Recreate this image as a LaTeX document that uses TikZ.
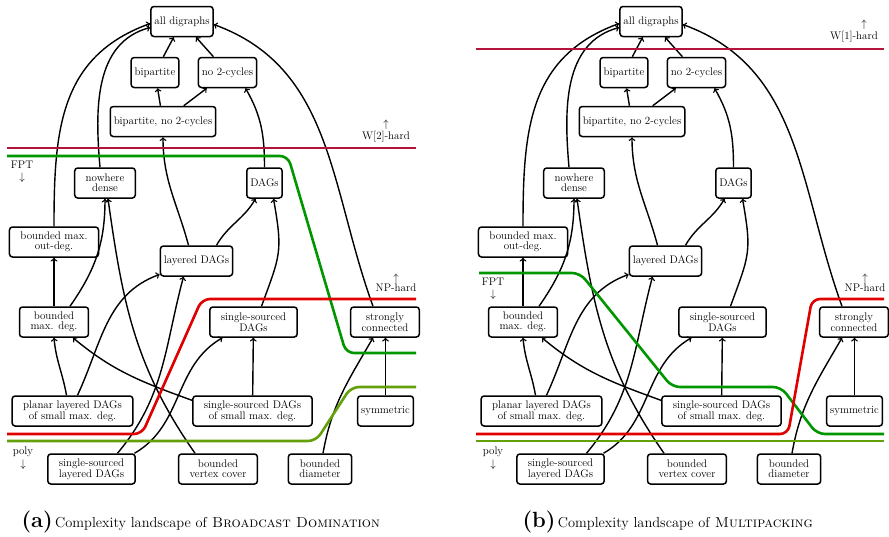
\documentclass[tikz,border=0pt]{standalone}
\usepackage{amsmath,amssymb}
\usepackage{tikz}
\usepackage{xcolor}
\definecolor{whard}{RGB}{180,20,60}
\definecolor{nphard}{RGB}{225,0,0}
\definecolor{fptgreen}{RGB}{0,150,0}
\definecolor{polygreen}{RGB}{100,160,10}

\begin{document}
\begin{tikzpicture}[x=1pt,y=-1pt,
    every node/.style={font=\fontsize{11}{9.8}\selectfont,align=center},
    cls/.style={draw,rounded corners=3pt,line width=1.5pt,minimum height=30pt,inner xsep=3.5pt},
    twoline/.style={cls,inner xsep=11pt},
    edge/.style={->,line width=1.4pt},
    hardline/.style={line width=2.6pt,rounded corners=8pt}]
  \useasboundingbox (0,0) rectangle (889,536);
  \begin{scope}
    \node[cls] (alldi) at (182,21.5) {all digraphs};
    \node[cls] (bip) at (155,72.5) {bipartite};
    \node[cls] (no2) at (227.5,72.5) {no 2-cycles};
    \node[cls] (bipno2) at (163,121.5) {bipartite, no 2-cycles};
    \node[twoline] (nwd) at (105,183) {nowhere\\dense};
    \node[cls] (dags) at (264.5,183) {DAGs};
    \node[twoline] (bmod) at (54,242) {bounded max.\\out-deg.};
    \node[cls] (ldags) at (196.5,261) {layered DAGs};
    \node[twoline] (bmd) at (54,322) {bounded\\max. deg.};
    \node[twoline] (ssdags) at (253.5,322) {single-sourced\\DAGs};
    \node[twoline] (sc) at (385,322) {strongly\\connected};
    \node[twoline] (pldags) at (72.5,411) {planar layered DAGs\\of small max. deg.};
    \node[twoline] (ssdsmd) at (252.5,411) {single-sourced DAGs\\of small max. deg.};
    \node[cls] (sym) at (385.5,411) {symmetric};
    \node[twoline] (ssldags) at (91.5,469) {single-sourced\\layered DAGs};
    \node[twoline] (bvc) at (218,469) {bounded\\vertex cover};
    \node[twoline] (bdiam) at (320,469) {bounded\\diameter};
    \draw[edge] (bip) -- (alldi);
    \draw[edge] (no2) -- (alldi);
    \draw[edge] (bipno2) -- (bip);
    \draw[edge] (bipno2) -- (no2);
    \draw[edge] (dags.north) to[out=90,in=-60] ([xshift=18pt]no2.south);
    \draw[edge] (bmod.north) to[out=90,in=200,looseness=1.1] ([yshift=-2pt]alldi.west);
    \draw[edge] ([xshift=-5pt]nwd.north) to[out=95,in=195] ([yshift=-6pt]alldi.west);
    \draw[edge] ([xshift=-12pt]sc.north) to[out=110,in=-20] ([yshift=-3pt]alldi.east);
    \draw[edge] ([xshift=-8pt]ldags.north) to[out=105,in=-90] (bipno2.south);
    \draw[edge] ([xshift=20pt]ldags.north) to[out=60,in=-120] ([xshift=-9pt]dags.south);
    \draw[edge] ([xshift=8pt]ssdags.north) to[out=70,in=-80,looseness=1.3] ([xshift=9pt]dags.south);
    \draw[edge] (bmd) -- (bmod);
    \draw[edge] ([xshift=16pt]bmd.north) to[out=55,in=-90] (nwd.south);
    \draw[edge] ([xshift=-6pt]pldags.north) to[out=100,in=-85] (bmd.south);
    \draw[edge] ([xshift=5pt]pldags.north) to[out=65,in=200] (ldags.200);
    \draw[edge] ([xshift=-23pt]bvc.north) to[out=125,in=-82] ([xshift=3pt]nwd.south);
    \draw[edge] (ssdsmd.170) to[out=160,in=-40] ([xshift=19pt]bmd.south);
    \draw[edge] (ssdsmd) -- (ssdags);
    \draw[edge] (sym.north) -- (sym.north |- sc.south);
    \draw[edge] ([xshift=3pt]bdiam.north) to[out=80,in=-120] ([xshift=-12pt]sc.south);
    \draw[edge] ([xshift=26pt]ssldags.north) to[out=50,in=-105] ([xshift=-13pt]ldags.south);
    \draw[edge] ([xshift=43pt]ssldags.north) to[out=30,in=210] ([xshift=-31pt]ssdags.south);
    % complexity borders
    \draw[whard,hardline] (7,148) -- (416,148);
    \draw[fptgreen,hardline] (7,156) -- (288,156) -- (346,353) -- (416,353);
    \draw[nphard,hardline] (416,299) -- (202,299) -- (142,434) -- (7,434);
    \draw[polygreen,hardline] (7,441) -- (316,441) -- (351,387) -- (416,387);
    \node (wlbl) at (386,131) {$\uparrow$\\W[2]-hard};
    \node (nplbl) at (396,283) {$\uparrow$\\NP-hard};
    \node (fptlbl) at (22,172) {FPT\\[2pt]$\downarrow$};
    \node (polylbl) at (23,458) {poly\\[2pt]$\downarrow$};
    \node[anchor=base west,font=\fontsize{14.4}{16}\selectfont] (capa) at (18,527)
      {{\fontsize{22}{22}\selectfont\bfseries (a)}\,Complexity landscape of \textsc{Broadcast Domination}};
  \end{scope}
  \begin{scope}[xshift=469pt]
    \node[cls] (alldi) at (182,21.5) {all digraphs};
    \node[cls] (bip) at (155,72.5) {bipartite};
    \node[cls] (no2) at (227.5,72.5) {no 2-cycles};
    \node[cls] (bipno2) at (163,121.5) {bipartite, no 2-cycles};
    \node[twoline] (nwd) at (105,183) {nowhere\\dense};
    \node[cls] (dags) at (264.5,183) {DAGs};
    \node[twoline] (bmod) at (54,242) {bounded max.\\out-deg.};
    \node[cls] (ldags) at (196.5,261) {layered DAGs};
    \node[twoline] (bmd) at (54,322) {bounded\\max. deg.};
    \node[twoline] (ssdags) at (253.5,322) {single-sourced\\DAGs};
    \node[twoline] (sc) at (385,322) {strongly\\connected};
    \node[twoline] (pldags) at (72.5,411) {planar layered DAGs\\of small max. deg.};
    \node[twoline] (ssdsmd) at (252.5,411) {single-sourced DAGs\\of small max. deg.};
    \node[cls] (sym) at (385.5,411) {symmetric};
    \node[twoline] (ssldags) at (91.5,469) {single-sourced\\layered DAGs};
    \node[twoline] (bvc) at (218,469) {bounded\\vertex cover};
    \node[twoline] (bdiam) at (320,469) {bounded\\diameter};
    \draw[edge] (bip) -- (alldi);
    \draw[edge] (no2) -- (alldi);
    \draw[edge] (bipno2) -- (bip);
    \draw[edge] (bipno2) -- (no2);
    \draw[edge] (dags.north) to[out=90,in=-60] ([xshift=18pt]no2.south);
    \draw[edge] (bmod.north) to[out=90,in=200,looseness=1.1] ([yshift=-2pt]alldi.west);
    \draw[edge] ([xshift=-5pt]nwd.north) to[out=95,in=195] ([yshift=-6pt]alldi.west);
    \draw[edge] ([xshift=-12pt]sc.north) to[out=110,in=-20] ([yshift=-3pt]alldi.east);
    \draw[edge] ([xshift=-8pt]ldags.north) to[out=105,in=-90] (bipno2.south);
    \draw[edge] ([xshift=20pt]ldags.north) to[out=60,in=-120] ([xshift=-9pt]dags.south);
    \draw[edge] ([xshift=8pt]ssdags.north) to[out=70,in=-80,looseness=1.3] ([xshift=9pt]dags.south);
    \draw[edge] (bmd) -- (bmod);
    \draw[edge] ([xshift=16pt]bmd.north) to[out=55,in=-90] (nwd.south);
    \draw[edge] ([xshift=-6pt]pldags.north) to[out=100,in=-85] (bmd.south);
    \draw[edge] ([xshift=5pt]pldags.north) to[out=65,in=200] (ldags.200);
    \draw[edge] ([xshift=-23pt]bvc.north) to[out=125,in=-82] ([xshift=3pt]nwd.south);
    \draw[edge] (ssdsmd.170) to[out=160,in=-40] ([xshift=19pt]bmd.south);
    \draw[edge] (ssdsmd) -- (ssdags);
    \draw[edge] (sym.north) -- (sym.north |- sc.south);
    \draw[edge] ([xshift=3pt]bdiam.north) to[out=80,in=-120] ([xshift=-12pt]sc.south);
    \draw[edge] ([xshift=26pt]ssldags.north) to[out=50,in=-105] ([xshift=-13pt]ldags.south);
    \draw[edge] ([xshift=43pt]ssldags.north) to[out=30,in=210] ([xshift=-31pt]ssdags.south);
    % complexity borders
    \draw[whard,hardline] (7,49) -- (415,49);
    \draw[fptgreen,hardline] (10,273) -- (111,273) -- (203,387) -- (312,387) -- (348,434) -- (415,434);
    \draw[nphard,hardline] (415,299) -- (343,299) -- (319,434) -- (7,434);
    \draw[polygreen,hardline] (7,441) -- (415,441);
    \node (wlbl) at (385,31) {\hspace*{20pt}$\uparrow$\\W[1]-hard};
    \node (nplbl) at (396,283) {$\uparrow$\\NP-hard};
    \node (fptlbl) at (24,289) {FPT\\[2pt]$\downarrow$};
    \node (polylbl) at (24,458) {poly\\[2pt]$\downarrow$};
    \node[anchor=base west,font=\fontsize{14.4}{16}\selectfont] (capb) at (50,527)
      {{\fontsize{22}{22}\selectfont\bfseries (b)}\,Complexity landscape of \textsc{Multipacking}};
  \end{scope}
\end{tikzpicture}
\end{document}
